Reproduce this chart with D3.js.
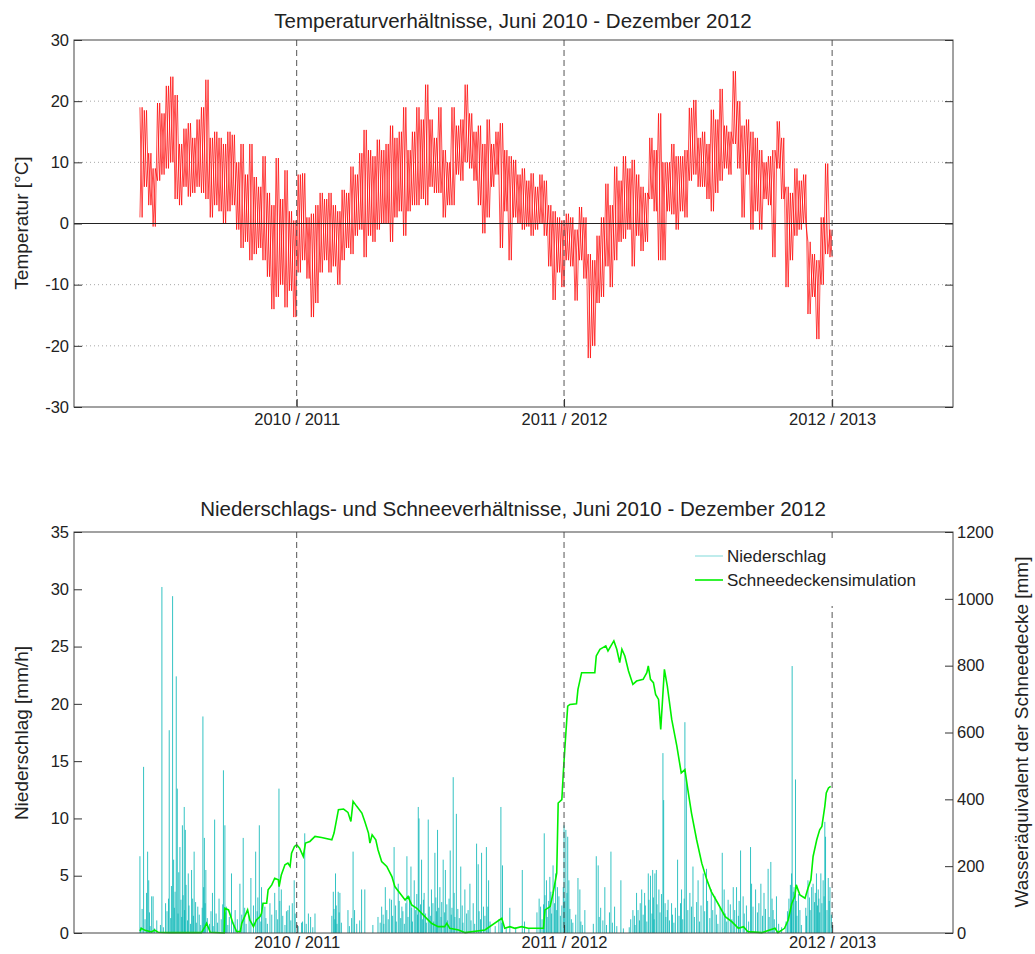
<!DOCTYPE html>
<html>
<head>
<meta charset="utf-8">
<script src="https://d3js.org/d3.v7.min.js"></script>
<style>
  body { margin: 0; background: #fff; }
  text { font-family: Arial, "Liberation Sans", sans-serif; fill: #222; }
</style>
</head>
<body>
<div id="viz"></div>
<script>

// x axis is in days since 1 June 2010
var yearTicks = [214, 579, 945];
var yearLabels = ["2010 / 2011", "2011 / 2012", "2012 / 2013"];
var tempTicks = [-30, -20, -10, 0, 10, 20, 30];
var rainTicks = [0, 5, 10, 15, 20, 25, 30, 35];
var snowTicks = [0, 200, 400, 600, 800, 1000, 1200];

// temperature, one high and one low per 6 days (high at day 6k, low at day 6k+3)
var tempHi = [19,18.5,11.5,9,19.7,18,22.5,24,21,13, 15.5,16.4,14,17,19,23.5,14,15,14,13,
  15,14.5,10,13,8,13,7.6,6,11,5, 3,10.7,4,8.7,2,0.5,8,8.2,1,1.6,
  3,5,4,5,3,2,5.5,5,9.3,8, 11.5,15.3,12,11,13.7,12,13,16,14,15,
  19,12,15,19,17,22.7,17,14,19,12, 10,19,16,17,22.7,18,15,16,13,17,
  13,15,16.4,12,11,10.4,8,9,7,8.2, 6,8,7,3,2,1,0.5,1.6,1,-1,
  2.7,1,-5,-6,-2,1,6.5,3,9.3,7, 11,9,10.4,8,6,5,14,12,18,10,
  10,13,11,11,12,18.9,20.2,14,15,13, 18.6,17,22,16,15,24.9,20,16,17,15,
  14,12,10,11,12,16.7,14,6,5,9, 7,8,-3,-5,-6,1,9.8,-1];
var tempLo = [1,6,3,-0.5,7,8,9,10,4,3, 6,4.4,5,6,5,4,1,3,2,0,
  2,3,-1,-4,-3,-6,-5,-4,-6,-8.7, -14,-12,-10,-13.7,-11,-15.3,-8,-6,-9,-15.3,
  -13,-8,-6,-8,-7,-10,-6,-4,-5,-2, -1,-5.5,-2,-3,-1,0,0,-3,1,2,
  -2,2,3,3,4,3,6,5,5,1, 3,3,8,7,10,9,7,3,-1.6,1,
  6,8,-4,2,-6,1,0,-1,-0.5,-2, -1,0,-2,-7,-12.5,-8,-10.4,-6,-7,-12.6,
  -6,-9,-22,-20,-13,-12,-7,-10.4,-6,-3, -2.5,-1,-7,-2,-4.5,-3,4,2,-6,-6,
  2,1.5,-1,2,1,7,8,6,6,4, 2,5,7,9,8,13,9,1,8,-1,
  2,-1,4,3,-5.5,9,4,-10.4,-6,-2, -1,0,-14.8,-12,-18.9,-10,-5,-5.5];

// precipitation bars [day, mm/h]
var rainBars = [[0,6.7],[5,14.5],[10.5,7.1],[12,4.6],[16,3.2],[18,3.2],[30,30.2],[40,17.7],[44.6,29.4],[46,6.4],
  [49.6,22.4],[51,12.6],[54.6,7.5],[58,9.4],[60.5,11],[62,9],[66,5.2],[70.5,5.5],[74,7.1],[79,2.3],
  [86,18.9],[88,8.3],[90,5.5],[99,3.5],[102,9.9],[114,14.2],[116,9.4],[118,2.3],[125,5.2],[130,2],
  [136.5,4.3],[141,8.3],[151.5,4.8],[158,7.1],[163,9.4],[166,4],[170.6,2.3],[177.5,2.6],[184,3.5],[189.8,12.6],
  [193,3.8],[202,2],[210.6,4.6],[220.7,0.9],[225,8.7],[230,1.7],[233,1.4],[239,1.7],[264,3.6],[267,5.2],
  [270.7,3.6],[273,3.5],[284,2],[291,7.1],[302.6,3.8],[307,3.8],[330,2.3],[335,4],[343.5,2.9],[347,7.5],
  [352.6,4.3],[357.6,2.3],[364.5,6.7],[370,5.8],[374.5,4.6],[380,11],[381,10],[384.5,6.4],[388,3.5],[393.6,9.9],
  [398,3.8],[402.7,7],[406.3,9],[409.5,4],[414,6.4],[417,5.5],[423.6,7.2],[427.7,13.6],[432,10.4],[438,5.8],
  [443.6,3.8],[450.5,4.3],[459.6,7.8],[461.8,6],[466.4,7],[473,7.5],[475,2.3],[476,4.6],[492.8,11],[495,5.9],
  [505,2.2],[522,5.5],[552,8.7],[555,4.6],[559.6,4.9],[564,5.9],[567.5,5.2],[570,4],[579,9.4],[581.5,9],
  [584,8.4],[585.6,4.6],[598,4.8],[600.6,3.8],[607.4,2],[623,6.7],[625.6,5.9],[634.7,4],[643,7.1],[648,2.3],
  [656.6,4.6],[673,2],[678,3.5],[685,3.8],[689,3.5],[694,5.2],[697,5],[700,5.5],[703,5.2],[705,5.5],
  [708.5,3.8],[714,15.7],[715,11.6],[721,2.9],[725.8,2.6],[734,6.4],[739.4,3.8],[744,18.4],[746,13.4],[750.8,3.5],
  [755,5.8],[762,4.6],[769,5.2],[773.5,5.6],[780,3.8],[785,3.2],[795,7],[797.6,3.8],[803,2.9],[810,4],
  [814.5,4],[820,7.2],[823.5,3.2],[833.6,7.5],[835,4.3],[840.5,3.8],[847.7,4.3],[852,3.5],[857.6,5.6],[861.3,6.2],
  [864.4,2],[869,3.2],[889.6,5.2],[890.4,23.3],[893,4],[895,13.4],[901,2],[912,4.6],[917,4],[919,4.3],
  [923.6,5.2],[926,3.8],[929.6,5.2],[932.7,4.6],[935,9.7],[936,8.4],[939.7,4.8],[942,4],
  // smaller showers
  [1,0.5],[3,2.1],[7,1.2],[9,3.5],[13,1.8],[14,0.6],[20,0.4],[23,1.1],[28,0.7],[32,0.5],
  [35,2.6],[37,1.9],[39,3],[42,1.3],[43,4.1],[47,2.2],[48,3.6],[52,1.7],[53,5.3],[56,2.9],
  [57,1.4],[59,3.3],[61,2],[63,4.2],[65,1.1],[67,2.4],[69,0.8],[72,3],[73,1.5],[76,2.7],
  [77,0.9],[81,1.6],[83,0.7],[85,2.2],[87,4],[89,2.6],[92,1.3],[95,0.8],[97,1.9],[100,0.6],
  [104,1.7],[106,0.9],[108,3],[111,1.2],[113,2.5],[117,1.8],[120,0.7],[122,1.4],[128,0.9],[133,1.2],
  [139,1.6],[143,2.2],[145,0.8],[149,1.5],[155,2.4],[160,1.9],[161,3.1],[165,1],[168,2.5],[172,1.3],
  [174,0.8],[180,1.6],[186,2],[188,1.2],[191,2.8],[195,1.5],[198,0.7],[200,1.9],[204,2.4],[206,1.1],
  [208,2.6],[212,1.7],[216,0.6],[222,1],[227,0.8],[236,0.5],[262,1.5],[265,2.1],[266,1.2],[268,2.4],
  [269,0.8],[272,1.8],[275,0.9],[286,0.6],[289,1.3],[293,2],[296,0.8],[300,1.1],[318,0.7],[325,1.4],
  [328,0.9],[332,1.6],[333,0.8],[337,2],[339,1.2],[341,3],[345,1.5],[349,2.4],[350,1],[354,2.8],
  [356,1.3],[359,1.9],[361,0.8],[363,2.6],[366,1.4],[368,3.2],[371,2.2],[372,1],[376,2],[378,3.4],
  [379,1.6],[383,2.5],[386,1.2],[387,2.9],[390,1.7],[391,0.9],[395,2.3],[397,1.5],[400,2.6],[401,1],
  [404,3.1],[405,1.9],[408,2.2],[411,1.4],[412,2.7],[416,1.8],[419,2.5],[420,1.1],[422,3],[425,1.6],
  [426,2.2],[429,3.5],[430,1.4],[434,2.1],[436,1.3],[440,2.4],[441,0.9],[446,1.7],[448,2],[452,1.1],
  [455,2.6],[457,0.8],[463,1.9],[465,1.2],[469,2.3],[471,1.5],[478,1],[485,0.6],[490,1.2],[494,0.9],
  [500,0.4],[513,0.5],[525,1],[531,0.4],[542,1.8],[545,3],[547,2.3],[549,1.2],[551,2.5],[553,3.3],
  [556,1.4],[558,2.8],[561,3.6],[562,1.7],[566,2.6],[569,2],[572,3.2],[574,1.5],[576,2.4],[578,4],
  [580,2.8],[583,3.5],[587,2.1],[589,1.2],[591,0.9],[595,1.6],[602,1],[604,0.7],[619,0.8],[627,1.4],
  [629,2.2],[632,1.1],[637,0.7],[641,1.8],[645,0.9],[651,0.6],[660,0.4],[668,0.5],[670,1.2],[675,1.5],
  [676,0.7],[680,2],[682,1.1],[683,2.6],[687,1.6],[690,2.4],[692,1],[695,2.9],[699,1.7],[701,3.1],
  [702,1.2],[706,2.5],[710,1.8],[712,3.4],[717,2.6],[718,1.4],[720,2],[723,1.1],[727,1.6],[729,0.9],
  [731,2.2],[736,1.5],[738,2.6],[741,1.2],[743,3],[748,2],[753,2.3],[757,1.4],[760,2.7],[764,1],
  [766,2.4],[771,1.9],[775,2.8],[778,1.3],[782,2],[787,1.6],[789,0.8],[792,2.2],[799,1.7],[801,1],
  [806,2.5],[808,1.2],[812,2],[817,1.5],[818,2.8],[825,1.7],[828,2.4],[831,1],[837,2.3],[843,1.8],
  [845,2.6],[850,1.5],[854,2.1],[859,1.4],[863,3],[866,1.2],[872,0.8],[876,0.5],[882,1],[884,1.9],
  [886,3],[888,4.2],[889,2.6],[892,3.6],[896,2.8],[897,1.5],[899,3.4],[903,0.7],[909,2.2],[910,1.5],
  [914,3.1],[915,2],[921,2.7],[922,3.5],[925,2.4],[927,3],[928,1.8],[931,2.6],[934,3.2],[938,2],
  [941,2.8],[944,1.6]];

// simulated snow water equivalent [day, mm]
var snowPts = [[0,6],[2,14],[7,8],[16,3],[20,9],[25,2],[39,1],[84,1],[89,20],[91,29],
  [96,2],[115,0],[116,74],[121,69],[127,29],[132,4],[137,4],[139,29],[143,49],[147,69],
  [150,39],[155,19],[159,39],[164,49],[166,59],[168,89],[173,89],[175,129],[180,144],[184,164],
  [189,159],[190,139],[193,174],[198,204],[202,209],[205,199],[207,239],[211,259],[214,264],[218,254],
  [223,229],[226,269],[232,274],[239,289],[248,286],[262,279],[265,299],[271,369],[278,371],[284,361],
  [288,334],[291,394],[296,379],[303,359],[307,334],[312,299],[314,269],[317,294],[322,279],[325,249],
  [330,214],[337,199],[344,169],[348,139],[355,119],[362,99],[366,109],[371,84],[378,74],[389,49],
  [398,29],[407,19],[416,19],[419,29],[423,14],[435,9],[444,1],[471,9],[494,44],[498,14],
  [505,19],[512,14],[521,19],[530,14],[551,14],[553,69],[560,79],[564,119],[569,179],[571,389],
  [576,399],[578,479],[580,549],[584,679],[587,684],[596,686],[598,729],[603,779],[621,779],[623,829],
  [628,849],[632,854],[636,859],[639,844],[643,859],[647,874],[651,849],[655,809],[658,849],[662,829],
  [667,784],[673,744],[678,754],[687,759],[692,779],[694,799],[697,759],[701,749],[704,714],[708,699],
  [711,609],[716,789],[720,739],[726,639],[733,559],[739,479],[744,489],[748,429],[753,359],[760,279],
  [767,209],[774,159],[780,124],[789,89],[799,49],[808,34],[817,14],[824,19],[830,4],[849,1],
  [867,14],[871,1],[880,14],[885,39],[890,89],[894,109],[896,144],[901,114],[908,104],[912,134],
  [916,159],[919,229],[924,279],[928,309],[931,319],[935,379],[937,419],[940,434],[943,439]];

var W = 1035, H = 954;
var svg = d3.select("#viz").append("svg").attr("width", W).attr("height", H);

var x = d3.scaleLinear().domain([-90, 1110]).range([74, 953]);
var yT = d3.scaleLinear().domain([-30, 30]).range([407, 40]);
var yL = d3.scaleLinear().domain([0, 35]).range([933, 532]);
var yR = d3.scaleLinear().domain([0, 1200]).range([933, 532]);

var plain = function(d) { return String(d); };   // hyphen minus, no thousands comma

function styleAxis(g, labels) {
    g.select(".domain").remove();
    g.selectAll(".tick line").attr("stroke", "#333");
    if (labels) g.selectAll(".tick text").style("font-size", "16.5px").attr("fill", "#222");
    else g.selectAll(".tick text").remove();
}

// ---------- top panel: temperature ----------
var topG = svg.append("g");

topG.selectAll(".grid").data(tempTicks.filter(function(t){ return t != 0 && Math.abs(t) != 30; }))
    .enter().append("line")
    .attr("x1", 74).attr("x2", 953)
    .attr("y1", function(d){ return yT(d); }).attr("y2", function(d){ return yT(d); })
    .attr("stroke", "#a8a8a8").attr("stroke-dasharray", "1,3");

// two zigzags in opposite phase, so the daily swings fill the band
var tempA = [], tempB = [];
tempHi.forEach(function(h, k) {
    tempA.push([6 * k, h]);        tempA.push([6 * k + 3, tempLo[k]]);
    tempB.push([6 * k, tempLo[k]]); tempB.push([6 * k + 3, h]);
});
var tLine = d3.line().x(function(d){ return x(d[0]); }).y(function(d){ return yT(d[1]); });

topG.selectAll(".temp").data([tempA, tempB]).enter().append("path")
    .attr("fill", "none").attr("stroke", "#ff0000").attr("stroke-width", 0.7)
    .attr("d", tLine);

topG.append("line").attr("x1", 74).attr("x2", 953).attr("y1", yT(0)).attr("y2", yT(0))
    .attr("stroke", "#222").attr("stroke-width", 1);

topG.selectAll(".yr").data(yearTicks).enter().append("line")
    .attr("x1", function(d){ return x(d); }).attr("x2", function(d){ return x(d); })
    .attr("y1", 40).attr("y2", 407)
    .attr("stroke", "#555").attr("stroke-dasharray", "6,4");

topG.append("rect").attr("x", 74).attr("y", 40).attr("width", 879).attr("height", 367)
    .attr("fill", "none").attr("stroke", "#444");

topG.append("g").attr("transform", "translate(74,0)")
    .call(d3.axisLeft(yT).tickValues(tempTicks).tickSize(-8).tickPadding(5).tickFormat(plain))
    .call(styleAxis, true);
topG.append("g").attr("transform", "translate(953,0)")
    .call(d3.axisRight(yT).tickValues(tempTicks).tickSize(-8))
    .call(styleAxis, false);
topG.append("g").attr("transform", "translate(0,407)")
    .call(d3.axisBottom(x).tickValues(yearTicks).tickSize(-8).tickPadding(6)
        .tickFormat(function(d, i){ return yearLabels[i]; }))
    .call(styleAxis, true);

topG.append("text").attr("x", 513).attr("y", 28).attr("text-anchor", "middle")
    .style("font-size", "20.5px").text("Temperaturverhältnisse, Juni 2010 - Dezember 2012");
topG.append("text").attr("transform", "translate(28,223) rotate(-90)").attr("text-anchor", "middle")
    .style("font-size", "19px").text("Temperatur [°C]");

// ---------- bottom panel: precipitation and snow ----------
var botG = svg.append("g");

botG.selectAll(".bar").data(rainBars).enter().append("line")
    .attr("x1", function(d){ return x(d[0]); }).attr("x2", function(d){ return x(d[0]); })
    .attr("y1", yL(0)).attr("y2", function(d){ return yL(d[1]); })
    .attr("stroke", "#00b4b4").attr("stroke-width", 1).attr("stroke-opacity", 0.8);

botG.append("path").datum(snowPts)
    .attr("fill", "none").attr("stroke", "#00f000").attr("stroke-width", 1.6)
    .attr("d", d3.line().x(function(d){ return x(d[0]); }).y(function(d){ return yR(d[1]); }));

botG.selectAll(".yr").data(yearTicks).enter().append("line")
    .attr("x1", function(d){ return x(d); }).attr("x2", function(d){ return x(d); })
    .attr("y1", 532).attr("y2", 933)
    .attr("stroke", "#555").attr("stroke-dasharray", "6,4");

botG.append("rect").attr("x", 74).attr("y", 532).attr("width", 879).attr("height", 401)
    .attr("fill", "none").attr("stroke", "#444");

botG.append("g").attr("transform", "translate(74,0)")
    .call(d3.axisLeft(yL).tickValues(rainTicks).tickSize(-8).tickPadding(5).tickFormat(plain))
    .call(styleAxis, true);
botG.append("g").attr("transform", "translate(953,0)")
    .call(d3.axisRight(yR).tickValues(snowTicks).tickSize(-8).tickPadding(4).tickFormat(plain))
    .call(styleAxis, true);
botG.append("g").attr("transform", "translate(0,933)")
    .call(d3.axisBottom(x).tickValues(yearTicks).tickSize(-8).tickPadding(3)
        .tickFormat(function(d, i){ return yearLabels[i]; }))
    .call(styleAxis, true);

// legend (white box hides the last dashed line)
var leg = botG.append("g");
leg.append("rect").attr("x", 688).attr("y", 538).attr("width", 240).attr("height", 68).attr("fill", "#fff");
var legItems = [
    {name: "Niederschlag", color: "#00b4b4", width: 1, op: 0.5},
    {name: "Schneedeckensimulation", color: "#00f000", width: 1.6, op: 1}
];
legItems.forEach(function(it, i) {
    var ly = 556 + i * 24;
    leg.append("line").attr("x1", 695).attr("x2", 723).attr("y1", ly).attr("y2", ly)
        .attr("stroke", it.color).attr("stroke-width", it.width).attr("stroke-opacity", it.op);
    leg.append("text").attr("x", 727).attr("y", ly + 6).style("font-size", "17px").text(it.name);
});

botG.append("text").attr("x", 513).attr("y", 516).attr("text-anchor", "middle")
    .style("font-size", "20.5px").text("Niederschlags- und Schneeverhältnisse, Juni 2010 - Dezember 2012");
botG.append("text").attr("transform", "translate(28,733) rotate(-90)").attr("text-anchor", "middle")
    .style("font-size", "19px").text("Niederschlag [mm/h]");
botG.append("text").attr("transform", "translate(1028,732) rotate(-90)").attr("text-anchor", "middle")
    .style("font-size", "19px").text("Wasseräquivalent der Schneedecke [mm]");

</script>
</body>
</html>
